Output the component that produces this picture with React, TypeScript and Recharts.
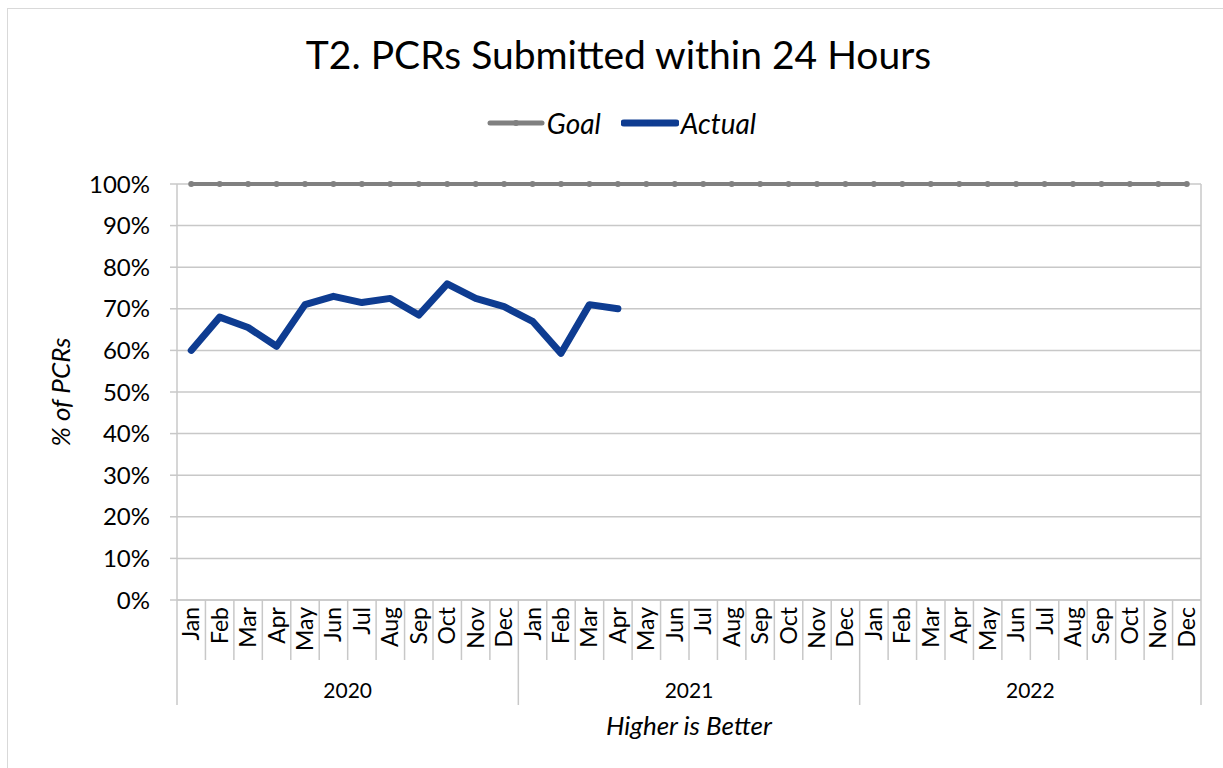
import React from "react";
import { LineChart, Line, XAxis, YAxis, CartesianGrid } from "recharts";

const months = [
  "Jan", "Feb", "Mar", "Apr", "May", "Jun", "Jul", "Aug", "Sep", "Oct", "Nov", "Dec",
  "Jan", "Feb", "Mar", "Apr", "May", "Jun", "Jul", "Aug", "Sep", "Oct", "Nov", "Dec",
  "Jan", "Feb", "Mar", "Apr", "May", "Jun", "Jul", "Aug", "Sep", "Oct", "Nov", "Dec",
];
const years = ["2020", "2021", "2022"];
const goal = [
  100, 100, 100, 100, 100, 100, 100, 100, 100, 100, 100, 100,
  100, 100, 100, 100, 100, 100, 100, 100, 100, 100, 100, 100,
  100, 100, 100, 100, 100, 100, 100, 100, 100, 100, 100, 100,
];
const actual: (number | null)[] = [
  60, 68, 65.5, 61, 71, 73, 71.5, 72.5, 68.5, 76, 72.5, 70.5,
  67, 59.3, 71, 70, null, null, null, null, null, null, null, null,
  null, null, null, null, null, null, null, null, null, null, null, null,
];
const yTicks = [0, 10, 20, 30, 40, 50, 60, 70, 80, 90, 100];

const data = months.map((m, i) => ({
  key: `${m}-${years[Math.floor(i / 12)]}`,
  month: m,
  Goal: goal[i],
  Actual: actual[i],
}));

const W = 1223;
const H = 768;
const MARGIN = { top: 184, right: 22, bottom: 0, left: 0 };
const Y_W = 177;
const X_H = 168;
const PLOT_W = W - MARGIN.right - MARGIN.left - Y_W;
const BAND = PLOT_W / months.length;
const FONT = "Lato, 'Open Sans', sans-serif";
const AXIS_GRAY = "#c8c8c8";
const GOAL_C = "#808080";
const ACTUAL_C = "#0E3C91";

const series = [
  { name: "Goal", color: GOAL_C, width: 5 },
  { name: "Actual", color: ACTUAL_C, width: 7 },
];

function MonthTick(props: any) {
  const { x, y, index } = props;
  const m = months[index];
  const left = x - BAND / 2;
  const right = x + BAND / 2;
  const long = index % 12 === 0;
  return (
    <g>
      <line x1={left} x2={left} y1={y} y2={y + (long ? 105 : 60)} stroke={AXIS_GRAY} strokeWidth={1.5} />
      {index === months.length - 1 && (
        <line x1={right} x2={right} y1={y} y2={y + 105} stroke={AXIS_GRAY} strokeWidth={1.5} />
      )}
      <text
        transform={`translate(${x + 8}, ${y + 7}) rotate(-90)`}
        textAnchor="end"
        fontSize={23}
        fontFamily={FONT}
        fill="#000"
      >
        {m}
      </text>
      {index % 12 === 6 && (
        <text x={left} y={y + 98} textAnchor="middle" fontSize={21} fontFamily={FONT} fill="#000">
          {years[Math.floor(index / 12)]}
        </text>
      )}
    </g>
  );
}

export default function App() {
  return (
    <div style={{ position: "absolute", left: 0, top: 0, width: W, height: H, overflow: "hidden", background: "#fff" }}>
      <div style={{ position: "absolute", left: 7, top: 8, width: W + 20, height: H + 20, border: "1.5px solid #d9d9d9", boxSizing: "border-box" }} />
      <div
        style={{
          position: "absolute", left: 0, top: 30, width: W + 14, textAlign: "center",
          fontFamily: FONT, fontSize: 39, color: "#000", lineHeight: "48px",
        }}
      >
        T2. PCRs Submitted within 24 Hours
      </div>
      <div
        style={{
          position: "absolute", left: 0, top: 106, width: W + 20, display: "flex",
          justifyContent: "center", alignItems: "center", gap: 20, fontFamily: FONT,
        }}
      >
        {series.map((s) => (
          <div key={s.name} style={{ display: "flex", alignItems: "center" }}>
            <svg width={58} height={14}>
              <line x1={3} x2={55} y1={7} y2={7} stroke={s.color} strokeWidth={s.width} strokeLinecap="round" />
              <circle cx={29} cy={7} r={3} fill={s.color} />
            </svg>
            <span style={{ fontStyle: "italic", fontSize: 28, marginLeft: 2, color: "#000", lineHeight: "34px" }}>{s.name}</span>
          </div>
        ))}
      </div>
      <div style={{ position: "absolute", left: 0, top: 0 }}>
        <LineChart width={W} height={H} data={data} margin={MARGIN}>
          <CartesianGrid
            stroke={AXIS_GRAY}
            strokeWidth={1.5}
            vertical={true}
            verticalCoordinatesGenerator={({ offset }: any) => [offset.left + offset.width]}
          />
          <XAxis
            dataKey="key"
            interval={0}
            height={X_H}
            padding={{ left: BAND / 2, right: BAND / 2 }}
            axisLine={{ stroke: AXIS_GRAY, strokeWidth: 1.5 }}
            tickLine={false}
            tickSize={0}
            tickMargin={0}
            tick={<MonthTick />}
            label={(p: any) => {
              const vb = p.viewBox;
              return (
                <text x={vb.x + vb.width / 2} y={vb.y + 135} textAnchor="middle" fontSize={26} fontStyle="italic" fontFamily={FONT} fill="#000">
                  Higher is Better
                </text>
              );
            }}
          />
          <YAxis
            width={Y_W}
            domain={[0, 100]}
            ticks={yTicks}
            interval={0}
            tickFormatter={(v) => `${v}%`}
            axisLine={{ stroke: AXIS_GRAY, strokeWidth: 1.5 }}
            tickLine={{ stroke: AXIS_GRAY, strokeWidth: 1.5 }}
            tickSize={7}
            tickMargin={20}
            tick={{ fill: "#000", fontSize: 24, fontFamily: FONT }}
            label={(p: any) => {
              const vb = p.viewBox;
              const cy = vb.y + vb.height / 2;
              return (
                <text transform={`translate(${vb.x + 70}, ${cy}) rotate(-90)`} textAnchor="middle" fontSize={26} fontStyle="italic" fontFamily={FONT} fill="#000">
                  % of PCRs
                </text>
              );
            }}
          />
          <Line
            dataKey="Goal"
            stroke={GOAL_C}
            strokeWidth={4}
            dot={{ r: 3, fill: GOAL_C, stroke: GOAL_C, strokeWidth: 0 }}
            isAnimationActive={false}
          />
          <Line
            dataKey="Actual"
            stroke={ACTUAL_C}
            strokeWidth={7}
            strokeLinecap="round"
            strokeLinejoin="round"
            dot={false}
            connectNulls={false}
            isAnimationActive={false}
          />
        </LineChart>
      </div>
    </div>
  );
}
